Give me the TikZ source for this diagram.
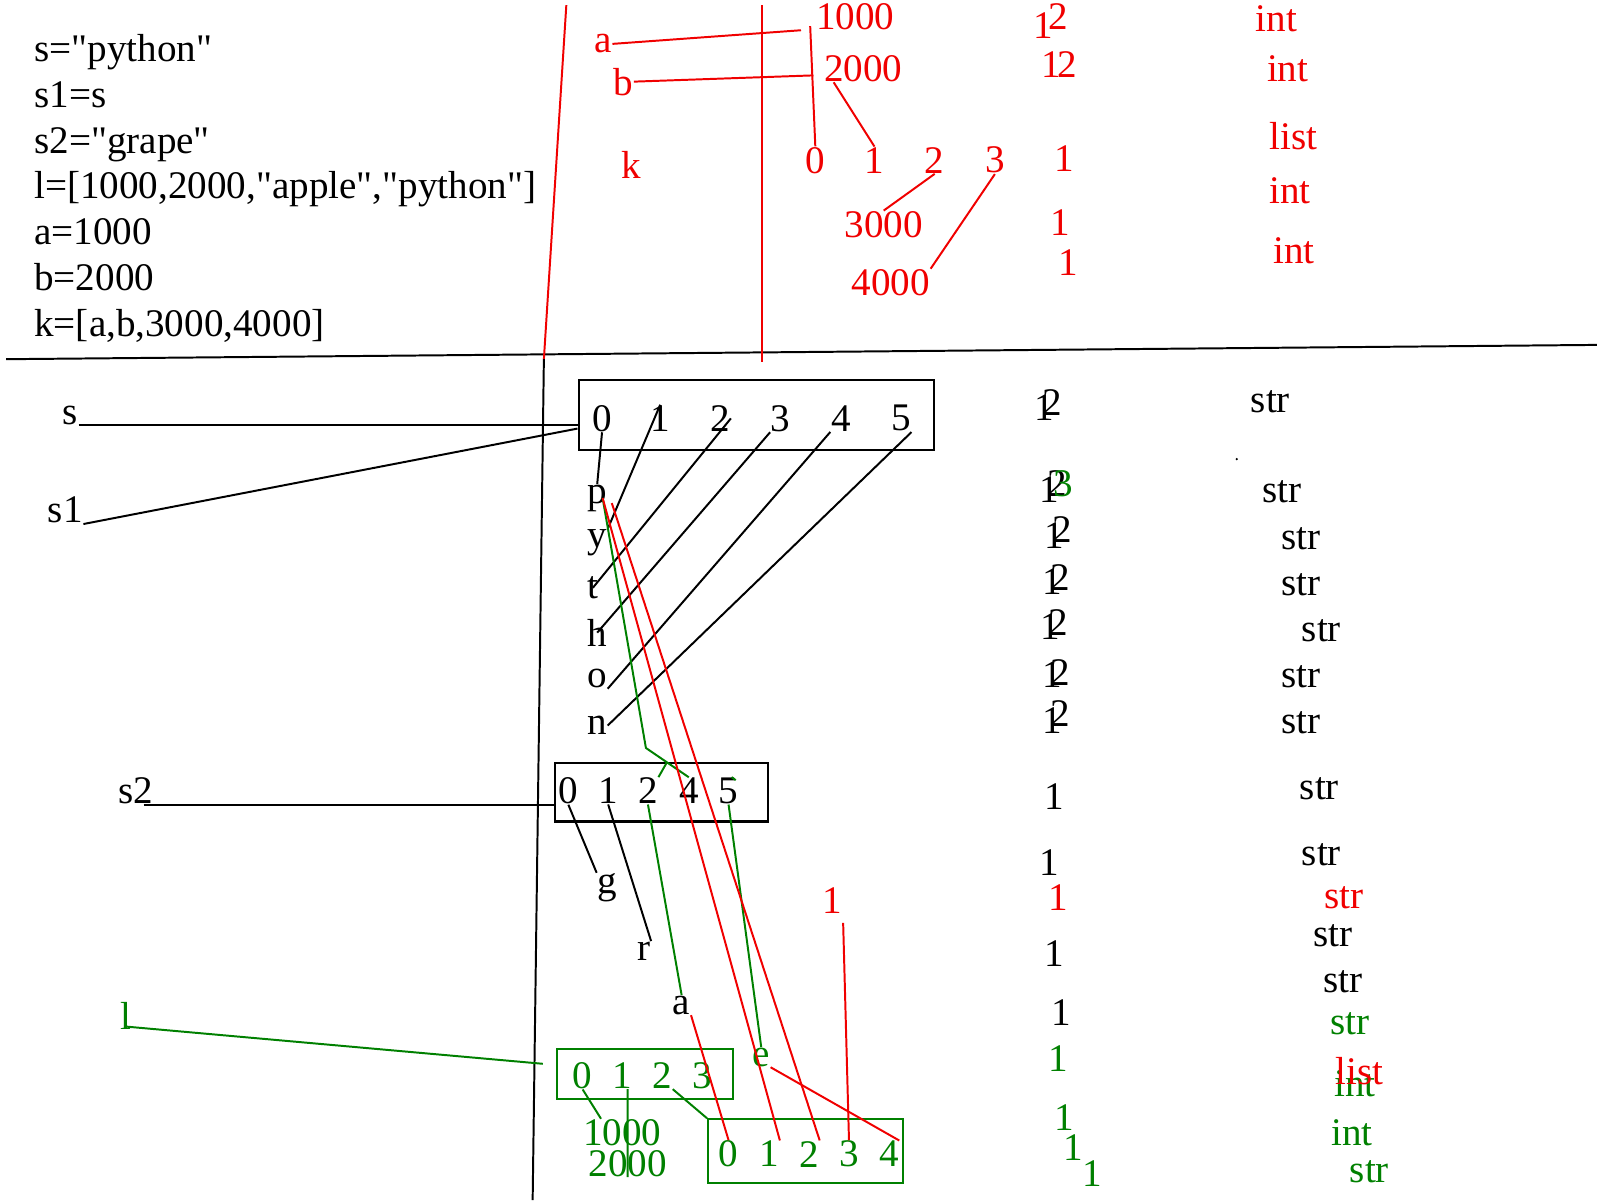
\documentclass[tikz,border=0pt]{standalone}
\usepackage{fontspec}
\newfontfamily\penfont{Liberation Serif}
\usepackage{xcolor}
\usepackage{tikz}

\definecolor{penred}{RGB}{240,0,0}
\definecolor{pengreen}{RGB}{0,128,0}
% a "1" with a "2" written over it
\newcommand{\ovtwo}[1][.3ex]{1\kern-.3em\raisebox{#1}{2}}

\begin{document}
\begin{tikzpicture}[
    x=0.1mm, y=-0.1mm,
    font=\penfont\fontsize{10.9}{13}\selectfont,
    txt/.style={inner sep=0pt},
    rtxt/.style={inner sep=0pt, text=penred},
    gtxt/.style={inner sep=0pt, text=pengreen},
    code/.style={inner sep=0pt, anchor=base west},
    cell/.style={rectangle, draw, line width=0.6pt, inner sep=0pt},
    link/.style={line width=0.55pt},
    rlink/.style={line width=0.55pt, penred},
    glink/.style={line width=0.55pt, pengreen}
]
\useasboundingbox (0,0) rectangle (1568,1176);

% Code
\node[code] (code1) at (33,60) {s="python"};
\node[code] (code2) at (33,105) {s1=s};
\node[code] (code3) at (33,150) {s2="grape"};
\node[code] (code4) at (33,195) {l=[1000,2000,"apple","python"]};
\node[code] (code5) at (33,240) {a=1000};
\node[code] (code6) at (33,285) {b=2000};
\node[code] (code7) at (33,330) {k=[a,b,3000,4000]};

% Frame lines
\draw[link] (6,352) -- (1565,338);
\draw[rlink] (555,5) -- (533,352);
\draw[link] (533,352) -- (522,1176);
\draw[rlink] (747,5) -- (747,355);

% Top: a, b and the list k
\node[rtxt] (va) at (591,43) {a};
\node[rtxt] (vb) at (611,80) {b};
\node[rtxt] (vk) at (619,162) {k};
\node[rtxt] (n1000) at (838,16) {1000};
\node[rtxt] (n2000) at (846,67) {2000};
\foreach \i/\x in {0/799,1/857,2/916,3/975}
    \node[rtxt] (k\i) at (\x,157) {\i};
\node[rtxt] (n3000) at (866,220) {3000};
\node[rtxt] (n4000) at (873,277) {4000};

\draw[rlink] (va.east) -- ([xshift=-1.4mm]n1000.south west);
\draw[rlink] (vb.east) -- ([xshift=-1mm]n2000.190);
\draw[rlink] ([shift={(-0.5mm,0.4mm)}]n1000.south west) -- (k0.north);
\draw[rlink] ([xshift=1mm]n2000.south west) -- (k1.north);
\draw[rlink] (k2.south) -- (n3000.north);
\draw[rlink] (k3.south) -- (n4000.north east);

% Top: counts and types
\node[rtxt] (cnt1000) at (1030,21) {1\kern-.12em\raisebox{.5ex}{2}};
\node[rtxt] (cnt2000) at (1038,63) {1\kern-.1em2};
\node[rtxt] (cntk) at (1043,155) {1};
\node[rtxt] (cnt3000) at (1039,218) {1};
\node[rtxt] (cnt4000) at (1047,257) {1};
\node[rtxt] (ty1000) at (1251,18) {int};
\node[rtxt] (ty2000) at (1262,67) {int};
\node[rtxt] (tyk) at (1268,133) {list};
\node[rtxt] (ty3000) at (1264,187) {int};
\node[rtxt] (ty4000) at (1268,246) {int};

% String s / s1
\node[txt] (s) at (69,407) {s};
\node[txt] (s1) at (64,500) {s1};
\node[cell, minimum width=34.8mm, minimum height=6.9mm] (boxpy) at (741,406.5) {};
\foreach \i/\x in {0/590,1/647,2/706,3/765,4/824,5/883}
    \node[txt] (py\i) at (\x,410) {\i};
\foreach \c/\y in {p/488,y/532,t/576,h/620,o/665,n/711}
    \node[txt, anchor=west] (\c) at (575,\y) {\c};

\draw[link] (s.south east) -- (s.south east -| boxpy.west);
\draw[link] (s1.south east) -- ([yshift=-1.35mm]boxpy.west);
\draw[link] (py0.south) -- (p.north);
\draw[link] (py1.north) -- (y.north east);
\draw[link] (py2.east) -- (t.center);
\draw[link] (py3.south west) -- (h.center);
\draw[link] (py4.south west) -- (o.south east);
\draw[link] (py5.south east) -- (n.east);

\node[txt] (cnts) at (1027,397) {\ovtwo};
\node[txt] (cntp) at (1035,477) {\ovtwo\kern-.35em\raisebox{.3ex}{\textcolor{pengreen}{3}}};
\node[txt] (cnty) at (1037,522) {\ovtwo};
\node[txt] (cntt) at (1035,568) {\ovtwo[.2ex]};
\node[txt] (cnth) at (1033,612) {\ovtwo[.2ex]};
\node[txt] (cnto) at (1035,660) {\ovtwo[.1ex]};
\node[txt] (cntn) at (1035,703) {\ovtwo[.4ex]};
\node[txt] (tys) at (1245,394) {str};
\node[txt] (typ) at (1256,482) {str};
\node[txt] (tyy) at (1275,528) {str};
\node[txt] (tyt) at (1275,573) {str};
\node[txt] (tyh) at (1295,618) {str};
\node[txt] (tyo) at (1275,663) {str};
\node[txt] (tyn) at (1275,708) {str};
\fill (1212,450) circle (0.12mm);

% String s2
\node[txt] (s2) at (133,775) {s2};
\node[cell, minimum width=20.9mm, minimum height=5.7mm] (boxgr) at (648.5,776.5) {};
\foreach \i/\x in {0/557,1/596,2/635,4/675,5/714}
    \node[txt] (gr\i) at (\x,775) {\i};
\node[txt] (g) at (595,870) {g};
\node[txt] (r) at (631,932) {r};
\node[txt] (a) at (668,985) {a};
\node[gtxt] (e) at (746,1036) {e};

\draw[link] ([xshift=-1mm]s2.south east) -- (s2.south east -| boxgr.west);
\draw[link] (gr0.south) -- (g.north west);
\draw[link] (gr1.south) -- (r.north east);

\node[txt] (cntg) at (1033,781) {1};
\node[txt] (cntr) at (1028,845) {1};
\node[rtxt] (cntrd) at (1037,880) {1};
\node[txt] (cnta) at (1033,935) {1};
\node[txt] (cntpe) at (1040,992) {1};
\node[txt] (tyg) at (1293,773) {str};
\node[txt] (tyr) at (1295,838) {str};
\node[rtxt] (tyrd) at (1317,880) {str};
\node[txt] (tya) at (1306,917) {str};
\node[txt] (type) at (1316,962) {str};

% List l and apple
\node[gtxt] (lvar) at (123,996) {l};
\node[cell, draw=pengreen, minimum width=17.2mm, minimum height=4.9mm] (boxl) at (632,1052.5) {};
\foreach \i/\x in {0/571,1/610,2/649,3/688}
    \node[gtxt] (l\i) at (\x,1054) {\i};
\node[gtxt] (g1000) at (610,1110) {1000};
\node[gtxt] (g2000) at (615,1140) {2000};
\node[cell, draw=pengreen, minimum width=19.1mm, minimum height=6.2mm] (boxapple) at (789.5,1128) {};
\foreach \i/\x in {0/714,1/754,2/793,3/832,4/871}
    \node[gtxt] (ap\i) at (\x,1131) {\i};
\node[rtxt] (rone) at (816,883) {1};

\draw[glink] ([yshift=0.4mm]lvar.south) -- ([shift={(-1.3mm,1mm)}]boxl.west);
\draw[glink] (l0.south) -- ([xshift=1.8mm]g1000.north west);
\draw[glink] ([xshift=0.5mm]l1.south) -- (g2000.south);
\draw[glink] (l2.south east) -- (boxapple.north west);

% Green edits
\coordinate (caret) at (633,733);
\draw[glink] ([xshift=-0.5mm]p.east) -- (caret) -- coordinate[pos=.49] (apex) (gr4.north);
\draw[glink] (gr2.north east) -- (apex);
\draw[glink] (gr2.south) -- (a.north);
\draw[glink] (gr5.south) -- (e.north);
\draw[glink] ([xshift=0.3mm]gr5.north) -- ++(4,3);

% Red edits
\draw[rlink] ([xshift=-0.5mm]p.east) -- (ap1.north east);
\draw[rlink] ([shift={(0.4mm,-0.5mm)}]p.east) -- (ap2.north east);
\draw[rlink] (a.south east) -- (ap0.north);
\draw[rlink] (e.south east) -- (ap4.north east);
\draw[rlink] ([yshift=-0.8mm]rone.south east) -- (ap3.north);

% Bottom counts and types
\node[gtxt] (tystr) at (1323,1003) {str};
\node[gtxt] (cntl) at (1037,1037) {1};
\node[gtxt] (tyint) at (1328,1062) {int};
\node[rtxt] (tyl) at (1332,1050) {list};
\node[gtxt] (cntl0) at (1043,1095) {1};
\node[gtxt] (tyl0) at (1325,1110) {int};
\node[gtxt] (cntl1) at (1052,1125) {1};
\node[gtxt] (cntl2) at (1070,1150) {1};
\node[gtxt] (tyl2) at (1342,1148) {str};

\end{tikzpicture}
\end{document}
